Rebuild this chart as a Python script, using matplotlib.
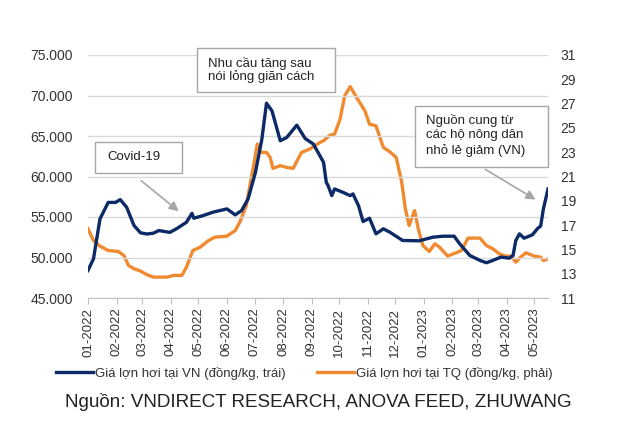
import matplotlib
matplotlib.use("Agg")
import matplotlib.pyplot as plt
import matplotlib.dates as mdates
from matplotlib.patches import Rectangle
import pandas as pd

plt.rcParams["font.family"] = ["Liberation Sans", "DejaVu Sans"]

START = pd.Timestamp("2022-01-01")

# Vietnam live hog price (dong/kg, left axis); x = days since 2022-01-01
vn_days = [0, 6, 13, 22, 30, 35, 42, 50, 57, 64, 71, 77, 89, 97, 107, 113, 115,
           125, 136, 151, 160, 167, 174, 182, 189, 194, 200, 209, 216, 227, 236,
           245, 252, 256, 259, 261, 265, 268, 277, 285, 288, 294, 299, 306, 313,
           321, 328, 342, 360, 375, 386, 398, 404, 415, 426, 433, 440, 449, 458,
           462, 465, 469, 474, 483, 489, 492, 495, 500]
vn_price = [48400, 49850, 54770, 56800, 56800, 57150, 56200, 53950, 53050, 52900,
            53000, 53330, 53100, 53600, 54350, 55450, 54850, 55170, 55600, 56000,
            55260, 55800, 57230, 60510, 64620, 69050, 68100, 64410, 64820, 66340,
            64700, 64000, 62570, 61750, 59280, 58870, 57640, 58460, 58050, 57640,
            57850, 56410, 54440, 54850, 52920, 53540, 53130, 52100, 52060, 52510,
            52630, 52630, 51690, 50250, 49640, 49350, 49640, 50050, 49920, 50250,
            52100, 52920, 52380, 52800, 53620, 53870, 56000, 58460]

# China live hog price (right axis)
cn_days = [0, 6, 13, 22, 33, 39, 44, 50, 57, 64, 71, 86, 93, 102, 107, 114, 122,
           131, 138, 151, 160, 165, 172, 180, 184, 188, 194, 198, 201, 209, 216,
           223, 232, 241, 252, 256, 263, 268, 274, 279, 285, 292, 301, 306, 313,
           321, 328, 335, 341, 345, 349, 355, 359, 364, 371, 377, 382, 391, 400,
           406, 413, 426, 433, 440, 447, 454, 460, 465, 469, 476, 485, 492, 495, 500]
cn_price = [16.69, 15.73, 15.27, 14.91, 14.83, 14.5, 13.68, 13.41, 13.22, 12.92,
            12.72, 12.72, 12.86, 12.86, 13.54, 14.91, 15.19, 15.73, 16.01, 16.09,
            16.55, 17.24, 18.6, 21.89, 23.67, 22.98, 22.98, 22.57, 21.67, 21.89,
            21.75, 21.67, 22.98, 23.26, 23.8, 23.94, 24.4, 24.49, 25.72, 27.63,
            28.4, 27.5, 26.4, 25.31, 25.17, 23.4, 23.04, 22.57, 20.52, 18.33,
            16.97, 18.2, 16.69, 15.32, 14.83, 15.46, 15.19, 14.45, 14.72, 14.91,
            15.93, 15.93, 15.32, 15.05, 14.64, 14.45, 14.45, 13.95, 14.28, 14.72,
            14.45, 14.36, 14.09, 14.22]

month_ticks = pd.date_range("2022-01-01", "2023-05-01", freq="MS")

vn_label = "Giá lợn hơi tại VN (đồng/kg, trái)"
cn_label = "Giá lợn hơi tại TQ (đồng/kg, phải)"
source = "Nguồn: VNDIRECT RESEARCH, ANOVA FEED, ZHUWANG"

NAVY = "#0B2A66"
ORANGE = "#F08A30"
GRAY = "#A6A6A6"
TXT = "#333333"

W, H = 640, 422
fig = plt.figure(figsize=(W / 100, H / 100), dpi=100)
ax = fig.add_axes([88 / W, 1 - 298 / H, (548 - 88) / W, (298 - 55) / H])
ax2 = ax.twinx()

vn_x = START + pd.to_timedelta(vn_days, unit="D")
cn_x = START + pd.to_timedelta(cn_days, unit="D")
l1, = ax.plot(vn_x, vn_price, color=NAVY, lw=2.4, zorder=3, label=vn_label)
l2, = ax2.plot(cn_x, cn_price, color=ORANGE, lw=2.4, zorder=3, label=cn_label)
ax.set_zorder(ax2.get_zorder() + 1)
ax.patch.set_visible(False)

ax.set_xlim(START, START + pd.Timedelta(days=500))
ax.set_ylim(45000, 75000)
ax.set_yticks(range(45000, 75001, 5000))
ax.yaxis.set_major_formatter(lambda v, p: f"{v:,.0f}".replace(",", "."))
ax2.set_ylim(11, 31)
ax2.set_yticks(range(11, 32, 2))

ax.set_xticks(month_ticks)
ax.xaxis.set_major_formatter(mdates.DateFormatter("%m-%Y"))
ax.tick_params(axis="x", rotation=90, labelsize=9.5, colors=TXT,
               length=4, color="#BFBFBF", pad=3)
ax.tick_params(axis="y", length=0, labelsize=10, colors=TXT, pad=11)
ax2.tick_params(axis="y", length=0, labelsize=10, colors=TXT, pad=9)

ax.grid(axis="y", color="#D9D9D9", lw=1)
for a in (ax, ax2):
    for s in ("top", "left", "right"):
        a.spines[s].set_visible(False)
ax2.spines["bottom"].set_visible(False)
ax.spines["bottom"].set_color("#BFBFBF")


def fpt(x, y):
    return (x / W, 1 - y / H)


def box(x0, y0, x1, y1):
    fig.patches.append(Rectangle(fpt(x0, y1), (x1 - x0) / W, (y1 - y0) / H,
                                 transform=fig.transFigure, fc="white",
                                 ec=GRAY, lw=1, zorder=5))


def arrow(x0, y0, x1, y1):
    fig.add_artist(plt.Annotation("", xy=fpt(x1, y1), xytext=fpt(x0, y0),
                                  xycoords="figure fraction",
                                  arrowprops=dict(arrowstyle="-|>", color=GRAY,
                                                  lw=1.2, mutation_scale=14)))


box(95, 142, 182, 173)
fig.text(*fpt(107, 157.5), "Covid-19", fontsize=9.5, va="center", color="#222222", zorder=6)
arrow(139, 179, 181, 213)

box(197, 48, 335, 92)
fig.text(*fpt(208, 70), "Nhu cầu tăng sau\nnói lỏng giãn cách", fontsize=9.5,
         va="center", linespacing=1.1, color="#222222", zorder=6)

box(415, 106, 548, 167)
fig.text(*fpt(426, 135.5), "Nguồn cung từ\ncác hộ nông dân\nnhỏ lẻ giảm (VN)",
         fontsize=9.5, va="center", linespacing=1.25, color="#222222", zorder=6)
arrow(483, 168, 538, 201)

fig.legend(handles=[l1, l2], loc="center", bbox_to_anchor=fpt(304, 373),
           ncol=2, frameon=False, fontsize=9.5, handlelength=2.8,
           handletextpad=0.15, columnspacing=2.4, labelcolor=TXT)
fig.text(*fpt(65, 402), source, fontsize=13.6, va="center", color="#222222")

fig.savefig("out.png", dpi=100)
